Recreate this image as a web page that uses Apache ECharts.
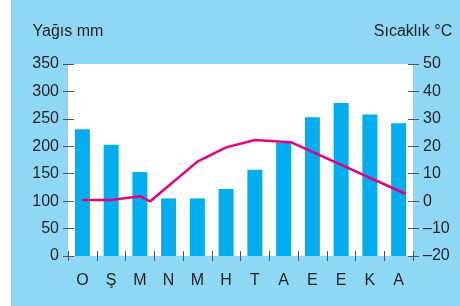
<!DOCTYPE html>
<html>
<head>
<meta charset="utf-8">
<script src="https://cdn.jsdelivr.net/npm/echarts@6/dist/echarts.min.js"></script>
<style>
  html, body { margin: 0; padding: 0; background: #fff; }
  #chart { position: absolute; left: 11px; top: 0; width: 449px; height: 306px; }
</style>
</head>
<body>
<div id="chart"></div>
<script>
// months (Ekim -> Eylül order as printed)
const months = ['O', 'Ş', 'M', 'N', 'M', 'H', 'T', 'A', 'E', 'E', 'K', 'A']
// precipitation, mm
const rain = [231, 203, 153, 105, 105, 122, 157, 207, 253, 279, 258, 242]
// temperature line vertices: month index (0 = first month) and °C
const tempMonth = [0, 1, 2, 2.35, 4, 5, 6, 7.25, 11.25]
const tempValue = [0.4, 0.4, 1.8, -0.1, 14.4, 19.6, 22.3, 21.5, 2.6]

const rainTicks = { min: 0, max: 350, interval: 50 }
const tempTicks = { min: -20, max: 50, interval: 10 }

const textColor = '#231f20'
const tickColor = '#555'
const font = 'Liberation Sans, Arial, sans-serif'
const fontSize = 16

const chart = echarts.init(document.getElementById('chart'))

const tempData = tempMonth.map((m, i) => [m + 0.5, tempValue[i]])

chart.setOption({
  backgroundColor: '#8fd8f5',
  animation: false,
  textStyle: { fontFamily: font },
  grid: {
    left: 57, right: 47, top: 64, bottom: 50,
    show: true, backgroundColor: '#fff', borderWidth: 0,
  },
  xAxis: [
    {
      type: 'category',
      data: months,
      axisLine: { show: false },
      axisTick: { show: true, length: 5, lineStyle: { color: tickColor, width: 1 } },
      axisLabel: { color: textColor, fontSize, margin: 17, fontFamily: font },
    },
    { type: 'value', min: 0, max: 12, show: false },
    {
      type: 'category',
      data: months,
      position: 'bottom',
      axisLine: { show: false },
      axisTick: { show: true, inside: true, length: 5, lineStyle: { color: tickColor, width: 1 } },
      axisLabel: { show: false },
    },
  ],
  yAxis: [
    {
      type: 'value', position: 'left', ...rainTicks,
      name: 'Yağıs mm', nameLocation: 'end', nameGap: 24,
      nameTextStyle: { color: textColor, fontSize, fontFamily: font },
      axisLine: { show: false },
      axisTick: { show: true, length: 5, lineStyle: { color: tickColor } },
      axisLabel: { color: textColor, fontSize, margin: 9, fontFamily: font },
      splitLine: { show: false },
    },
    {
      type: 'value', position: 'right', ...tempTicks,
      name: 'Sıcaklık °C', nameLocation: 'end', nameGap: 24,
      nameTextStyle: { color: textColor, fontSize, fontFamily: font },
      axisLine: { show: false },
      axisTick: { show: true, length: 6, lineStyle: { color: tickColor } },
      axisLabel: { color: textColor, fontSize, margin: 10, fontFamily: font,
        formatter: v => (v < 0 ? '\u2013' + Math.abs(v) : String(v)) },
      splitLine: { show: false },
    },
    {
      type: 'value', position: 'left', ...rainTicks,
      axisLine: { show: false },
      axisTick: { show: true, inside: true, length: 6, lineStyle: { color: tickColor } },
      axisLabel: { show: false },
      splitLine: { show: false },
    },
    {
      type: 'value', position: 'right', ...tempTicks,
      axisLine: { show: false },
      axisTick: { show: true, inside: true, length: 5, lineStyle: { color: tickColor } },
      axisLabel: { show: false },
      splitLine: { show: false },
    },
  ],
  series: [
    {
      type: 'bar',
      data: rain,
      xAxisIndex: 0,
      yAxisIndex: 0,
      barWidth: 15,
      itemStyle: { color: '#00aeef' },
    },
    {
      type: 'line',
      data: tempData,
      xAxisIndex: 1,
      yAxisIndex: 1,
      symbol: 'none',
      lineStyle: { color: '#e6007e', width: 2.5 },
    },
  ],
})
</script>
</body>
</html>
